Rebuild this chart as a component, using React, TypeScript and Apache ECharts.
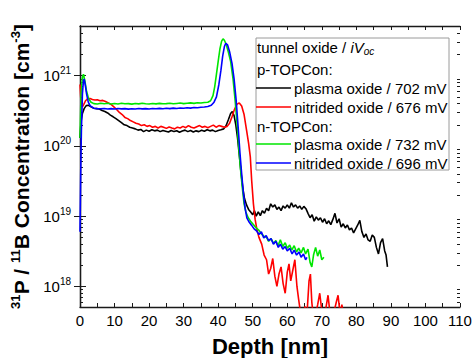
import React, { useEffect, useRef } from 'react';
import * as echarts from 'echarts';

const FONT = '"Liberation Sans", Arial, sans-serif';

// axis ranges and tick labels
const DEPTH_MIN = 0;
const DEPTH_MAX = 110;
const DEPTH_TICK_STEP = 5;
const CONC_MIN = 5.1e17;
const CONC_MAX = 5.1e21;
const majorExponents = [18, 19, 20, 21];
const minorMultipliers = [2, 3, 4, 5, 6, 7, 8, 9];
const minorDecades = [17, 18, 19, 20, 21];

// legend texts
const legendTitle = 'tunnel oxide / ';
const groupP = 'p-TOPCon:';
const groupN = 'n-TOPCon:';
const seriesNames = [
  'plasma oxide / 702 mV',
  'nitrided oxide / 676 mV',
  'plasma oxide / 732 mV',
  'nitrided oxide / 696 mV',
];
const seriesColors = ['#000000', '#ff0000', '#00e600', '#0000ff'];

// p-TOPCon, plasma oxide (black) [depth nm, concentration cm^-3]
const pPlasma: [number, number][] = [
  [0, 1.3e20], [0.3, 2.2e20], [0.7, 2.9e20], [1.2, 3.4e20], [1.8, 3.75e20], [2.5, 3.8e20],
  [3.2, 3.6e20], [4, 3.45e20], [4.8, 3.4e20], [5.6, 3.35e20], [6.4, 3.2e20], [7.2, 3.1e20],
  [8, 2.95e20], [8.8, 2.75e20], [9.6, 2.6e20], [10.4, 2.45e20], [11.2, 2.3e20], [12, 2.15e20],
  [12.8, 2.0e20], [13.6, 1.95e20], [14.4, 1.85e20], [15.2, 1.8e20], [16, 1.75e20], [16.8, 1.68e20],
  [17.6, 1.72e20], [18.4, 1.6e20], [19.2, 1.68e20], [20, 1.62e20], [20.8, 1.7e20], [21.6, 1.64e20],
  [22.4, 1.68e20], [23.2, 1.6e20], [24, 1.66e20], [24.8, 1.62e20], [25.6, 1.58e20], [26.4, 1.66e20],
  [27.2, 1.6e20], [28, 1.65e20], [28.8, 1.57e20], [29.6, 1.63e20], [30.4, 1.68e20], [31.2, 1.6e20],
  [32, 1.66e20], [32.8, 1.58e20], [33.6, 1.64e20], [34.4, 1.6e20], [35.2, 1.67e20], [36, 1.62e20],
  [36.8, 1.7e20], [37.6, 1.64e20], [38.4, 1.68e20], [39.2, 1.6e20], [40, 1.66e20], [40.8, 1.7e20],
  [41.6, 1.75e20], [42.3, 1.95e20], [43, 2.4e20], [43.6, 2.9e20], [44.1, 3.1e20], [44.6, 2.7e20],
  [45.1, 2.0e20], [45.6, 1.3e20], [46.1, 7.5e19], [46.6, 4.2e19], [47.1, 2.6e19], [47.6, 1.8e19],
  [48.2, 1.45e19], [48.8, 1.25e19], [49.4, 1.15e19], [50, 1.05e19], [50.5, 1.2e19], [51, 1.0e19],
  [51.6, 1.15e19], [52.2, 1.02e19], [52.8, 1.2e19], [53.4, 1.1e19], [54, 1.3e19], [54.6, 1.2e19],
  [55.2, 1.5e19], [55.8, 1.35e19], [56.4, 1.45e19], [57, 1.25e19], [57.6, 1.35e19], [58.2, 1.2e19],
  [58.8, 1.4e19], [59.4, 1.3e19], [60, 1.45e19], [60.6, 1.3e19], [61.2, 1.55e19], [61.8, 1.35e19],
  [62.4, 1.45e19], [63, 1.3e19], [63.6, 1.4e19], [64.2, 1.25e19], [64.8, 1.38e19], [65.4, 1.28e19],
  [66, 1.1e19], [66.6, 9.5e18], [67.2, 1.05e19], [67.8, 8.5e18], [68.4, 9.8e18], [69, 8.8e18],
  [69.6, 9.5e18], [70.2, 8.2e18], [70.8, 9.2e18], [71.4, 7.8e18], [72, 8.6e18], [72.6, 7.6e18],
  [73.2, 9e18], [73.8, 1.1e19], [74.4, 8e18], [75, 9.2e18], [75.6, 7e18], [76.2, 7.8e18],
  [76.8, 6.8e18], [77.4, 7.5e18], [78, 6.4e18], [78.6, 6.8e18], [79.2, 5.8e18], [79.8, 6.6e18],
  [80.4, 7.5e18], [81, 8.7e18], [81.6, 6e18], [82.2, 5e18], [82.8, 5.6e18], [83.4, 4.6e18],
  [84, 4.4e18], [84.6, 5.4e18], [85.2, 5e18], [85.8, 3.6e18], [86.4, 2.9e18], [87, 4.2e18],
  [87.6, 4.8e18], [88.2, 3.2e18], [88.6, 2.8e18], [89, 1.9e18],
];

// p-TOPCon, nitrided oxide (red)
const pNitrided: [number, number][] = [
  [0, 7.5e20], [0.2, 5e20], [0.4, 3.8e20], [0.7, 3.6e20], [1.1, 3.9e20], [1.6, 4.4e20],
  [2.2, 4.7e20], [2.9, 4.75e20], [3.6, 4.6e20], [4.3, 4.5e20], [5, 4.55e20], [5.8, 4.4e20],
  [6.6, 4.45e20], [7.4, 4.3e20], [8.2, 4.1e20], [9, 3.9e20], [9.8, 3.6e20], [10.6, 3.3e20],
  [11.4, 3.0e20], [12.2, 2.8e20], [13, 2.55e20], [13.8, 2.45e20], [14.6, 2.3e20], [15.4, 2.2e20],
  [16.2, 2.1e20], [17, 2.05e20], [17.8, 1.95e20], [18.6, 2.0e20], [19.4, 1.9e20], [20.2, 1.95e20],
  [21, 1.85e20], [21.8, 1.9e20], [22.6, 1.8e20], [23.4, 1.9e20], [24.2, 1.85e20], [25, 1.78e20],
  [25.8, 1.86e20], [26.6, 1.8e20], [27.4, 1.75e20], [28.2, 1.85e20], [29, 1.8e20], [29.8, 1.9e20],
  [30.6, 1.82e20], [31.4, 1.95e20], [32.2, 1.85e20], [33, 1.8e20], [33.8, 1.88e20], [34.6, 1.95e20],
  [35.4, 1.85e20], [36.2, 1.9e20], [37, 1.82e20], [37.8, 1.9e20], [38.6, 1.98e20], [39.4, 1.85e20],
  [40.2, 1.95e20], [41, 1.9e20], [41.8, 1.85e20], [42.6, 1.9e20], [43.3, 2.1e20], [44, 2.6e20],
  [44.7, 3.3e20], [45.4, 3.9e20], [46.1, 4.1e20], [46.8, 3.7e20], [47.5, 2.8e20], [48.2, 1.7e20],
  [48.8, 1.1e20], [49.3, 7e19], [49.7, 3.2e19], [50.2, 1.5e19], [50.7, 9e18], [51.2, 6.5e18],
  [51.8, 5e18], [52.6, 4e18], [53.3, 2.8e18], [54, 2.4e18], [54.6, 1.5e18], [55.2, 1.8e18],
  [55.8, 2.5e18], [56.4, 1.4e18], [57, 1.0e18], [57.6, 1.5e18], [58.2, 1.9e18], [58.8, 1.1e18],
  [59.4, 8e17], [60, 1.6e18], [60.5, 2.1e18], [61, 1.2e18], [61.6, 1.7e18], [62.2, 2.4e18],
  [62.8, 1.0e18], [63.3, 6.5e17], [63.9, 4e17], [64.5, 3.5e17], [65.1, 5.2e17], [65.7, 4e17],
  [66.3, 1.2e18], [66.7, 1.5e18], [67.1, 6e17], [67.6, 3.5e17], [68.2, 4e17], [68.8, 5.5e17],
  [69.4, 8e17], [70, 4.5e17], [70.6, 3.5e17], [71.2, 5e17], [71.8, 7.5e17], [72.4, 4e17],
  [73, 3.5e17], [73.6, 4.5e17], [74.2, 6e17], [74.7, 7.5e17], [75.3, 4e17], [75.8, 5.5e17],
  [76.3, 4e17],
];

// n-TOPCon, plasma oxide (green)
const nPlasma: [number, number][] = [
  [0, 1.3e20], [0.3, 5.5e20], [0.7, 9.5e20], [1.0, 1.05e21], [1.4, 8.5e20], [1.9, 6e20],
  [2.5, 4.7e20], [3.2, 4.2e20], [4, 4.0e20], [5, 3.95e20], [6, 4.05e20], [7, 3.98e20],
  [8, 4.05e20], [9, 3.95e20], [10, 4.02e20], [11, 3.96e20], [12, 4.05e20], [13, 3.98e20],
  [14, 4.0e20], [15, 3.94e20], [16, 4.03e20], [17, 3.97e20], [18, 4.05e20], [19, 3.99e20],
  [20, 3.95e20], [21, 4.02e20], [22, 3.97e20], [23, 4.04e20], [24, 3.98e20], [25, 4.0e20],
  [26, 4.06e20], [27, 3.98e20], [28, 4.03e20], [29, 4.08e20], [30, 4.0e20], [31, 4.05e20],
  [32, 4.1e20], [33, 4.04e20], [34, 4.12e20], [35, 4.08e20], [36, 4.15e20], [37, 4.2e20],
  [37.8, 4.4e20], [38.5, 5.2e20], [39, 7e20], [39.5, 1.05e21], [40, 1.6e21], [40.5, 2.4e21],
  [41, 3.1e21], [41.4, 3.35e21], [41.8, 3.2e21], [42.3, 2.8e21], [42.9, 2.2e21], [43.6, 1.6e21],
  [44.3, 9e20], [44.9, 4.5e20], [45.5, 2e20], [46, 9e19], [46.5, 4.5e19], [47, 2.5e19],
  [47.5, 1.5e19], [48, 1.15e19], [48.7, 9.5e18], [49.5, 8.3e18], [50.3, 7.5e18], [51, 6.8e18],
  [51.8, 6.3e18], [52.5, 5.6e18], [53.2, 5.2e18], [54, 5.0e18], [54.6, 4.4e18], [55.3, 4.8e18],
  [56, 4.1e18], [56.7, 4.5e18], [57.3, 3.8e18], [58, 4.6e18], [58.7, 3.7e18], [59.4, 4.2e18],
  [60, 3.5e18], [60.7, 3.9e18], [61.3, 3.3e18], [62, 3.8e18], [62.7, 3.1e18], [63.3, 3.5e18],
  [64, 3.0e18], [64.7, 3.6e18], [65.3, 2.9e18], [66, 3.4e18], [66.6, 2.2e18], [67.1, 1.9e18],
  [67.6, 2.8e18], [68.2, 3.6e18], [68.8, 2.7e18], [69.4, 3.3e18], [70, 2.4e18], [70.6, 2.6e18],
];

// n-TOPCon, nitrided oxide (blue)
const nNitrided: [number, number][] = [
  [0, 6e18], [0.2, 4e19], [0.4, 1.6e20], [0.7, 5.5e20], [1.0, 8.5e20], [1.2, 9e20],
  [1.5, 7.5e20], [1.9, 5.5e20], [2.4, 4.2e20], [3, 3.7e20], [4, 3.45e20], [5, 3.4e20],
  [6, 3.38e20], [7, 3.42e20], [8, 3.36e20], [9, 3.4e20], [10, 3.35e20], [11, 3.41e20],
  [12, 3.37e20], [13, 3.4e20], [14, 3.34e20], [15, 3.39e20], [16, 3.36e20], [17, 3.42e20],
  [18, 3.37e20], [19, 3.4e20], [20, 3.35e20], [21, 3.41e20], [22, 3.38e20], [23, 3.43e20],
  [24, 3.39e20], [25, 3.44e20], [26, 3.4e20], [27, 3.46e20], [28, 3.42e20], [29, 3.47e20],
  [30, 3.44e20], [31, 3.5e20], [32, 3.46e20], [33, 3.52e20], [34, 3.5e20], [35, 3.55e20],
  [36, 3.58e20], [37, 3.65e20], [38, 3.8e20], [38.8, 4.2e20], [39.5, 5e20], [40.2, 7.5e20],
  [40.8, 1.2e21], [41.3, 1.9e21], [41.8, 2.6e21], [42.2, 2.9e21], [42.7, 2.75e21], [43.3, 2.2e21],
  [44, 1.5e21], [44.6, 9e20], [45.2, 4.5e20], [45.8, 1.8e20], [46.3, 8e19], [46.8, 4e19],
  [47.3, 2.1e19], [47.8, 1.3e19], [48.3, 9.5e18], [49, 8.2e18], [49.7, 7.4e18], [50.4, 6.6e18],
  [51.1, 6.2e18], [51.8, 5.5e18], [52.5, 6e18], [53.2, 4.9e18], [53.9, 5.3e18], [54.6, 4.5e18],
  [55.3, 4.8e18], [56, 4.0e18], [56.7, 4.4e18], [57.4, 3.6e18], [58, 4.0e18], [58.7, 3.4e18],
  [59.4, 3.7e18], [60, 3.2e18], [60.7, 3.5e18], [61.4, 2.9e18], [62, 3.3e18], [62.7, 2.8e18],
  [63.4, 3.1e18], [64, 2.6e18], [64.7, 2.9e18], [65.3, 2.4e18], [65.7, 2.6e18],
];

const seriesData = [pPlasma, pNitrided, nPlasma, nNitrided];

const majorValues = majorExponents.map((e) => Math.pow(10, e));
const minorValues: number[] = [];
minorDecades.forEach((d) => {
  minorMultipliers.forEach((m) => {
    const v = m * Math.pow(10, d);
    if (v > CONC_MIN && v < CONC_MAX) minorValues.push(v);
  });
});

const AXIS_COLOR = '#1a1a1a';

function makeOption(): echarts.EChartsOption {
  const grid = { left: 80, right: 15, top: 26, bottom: 51 };
  const yBase = (position: 'left' | 'right', custom: number[], len: number, labels: boolean, line: boolean, name?: boolean): any => ({
    type: 'log',
    logBase: 10,
    position,
    min: CONC_MIN,
    max: CONC_MAX,
    axisLine: { show: line, lineStyle: { color: AXIS_COLOR, width: 1.3 } },
    axisTick: { show: true, inside: true, length: len, customValues: custom, lineStyle: { color: AXIS_COLOR, width: 1 } },
    axisLabel: labels
      ? {
          show: true,
          customValues: majorValues,
          margin: 9,
          formatter: (v: number) => `{b|10}{s|${Math.round(Math.log10(v))}}`,
          rich: {
            b: { fontSize: 15, fontFamily: FONT, color: '#000', lineHeight: 20, verticalAlign: 'middle' },
            s: { fontSize: 10, fontFamily: FONT, color: '#000', lineHeight: 10, verticalAlign: 'top' },
          },
        }
      : { show: false },
    splitLine: { show: false },
    minorTick: { show: false },
    ...(name
      ? {
          name: '{s|31}{b|P / }{s|11}{b|B Concentration [cm}{s|-3}{b|]}',
          nameLocation: 'middle',
          nameRotate: 90,
          nameGap: 42,
          nameTextStyle: {
            rich: {
              b: { fontSize: 21, fontWeight: 'bold', fontFamily: FONT, color: '#000', lineHeight: 26, verticalAlign: 'middle' },
              s: { fontSize: 13, fontWeight: 'bold', fontFamily: FONT, color: '#000', lineHeight: 13, verticalAlign: 'top' },
            },
          },
        }
      : {}),
  });

  const xBase = (position: 'top' | 'bottom', labels: boolean): any => ({
    type: 'value',
    position,
    min: DEPTH_MIN,
    max: DEPTH_MAX,
    interval: DEPTH_TICK_STEP,
    axisLine: { show: true, lineStyle: { color: AXIS_COLOR, width: 1.3 } },
    axisTick: { show: true, inside: true, length: 4, lineStyle: { color: AXIS_COLOR, width: 1 } },
    axisLabel: labels
      ? {
          show: true,
          margin: 6,
          fontSize: 15,
          fontFamily: FONT,
          color: '#000',
          showMinLabel: true,
          showMaxLabel: true,
          formatter: (v: number) => (v % 10 === 0 ? String(v) : ''),
        }
      : { show: false },
    splitLine: { show: false },
    ...(labels
      ? {
          name: 'Depth [nm]',
          nameLocation: 'middle',
          nameGap: 28,
          nameTextStyle: { fontSize: 22, fontWeight: 'bold', fontFamily: FONT, color: '#000' },
        }
      : {}),
  });

  const rowY = [47, 69, 88, 107, 126, 144, 163];
  const legendLeft = 256;
  const lineX2 = 291;
  const textX = 294;
  const txt = (text: string, x: number, y: number): any => ({
    type: 'text',
    x,
    y,
    style: { text, x: 0, y: 0, fontSize: 15, fontFamily: FONT, fill: '#000', verticalAlign: 'middle', align: 'left' },
    z: 101,
  });
  const sampleRows = [2, 3, 5, 6];

  const graphics: any[] = [
    {
      type: 'rect',
      shape: { x: legendLeft, y: 38, width: 193, height: 132 },
      style: { fill: '#ffffff', stroke: '#9a9a9a', lineWidth: 1 },
      z: 100,
    },
    {
      type: 'text',
      x: legendLeft + 1,
      y: rowY[0],
      z: 101,
      style: {
        text: `{n|${legendTitle}}{i|iV}{o|oc}`,
        verticalAlign: 'middle',
        align: 'left',
        rich: {
          n: { fontSize: 15, fontFamily: FONT, fill: '#000', lineHeight: 18, verticalAlign: 'middle' },
          i: { fontSize: 15, fontFamily: FONT, fill: '#000', fontStyle: 'italic', lineHeight: 18, verticalAlign: 'middle' },
          o: { fontSize: 10, fontFamily: FONT, fill: '#000', fontStyle: 'italic', lineHeight: 10, verticalAlign: 'bottom' },
        },
      },
    },
    txt(groupP, legendLeft + 1, rowY[1]),
    txt(groupN, legendLeft + 1, rowY[4]),
  ];
  sampleRows.forEach((r, i) => {
    graphics.push({
      type: 'line',
      shape: { x1: legendLeft, y1: rowY[r], x2: lineX2, y2: rowY[r] },
      style: { stroke: seriesColors[i], lineWidth: 1.6 },
      z: 101,
    });
    graphics.push(txt(seriesNames[i], textX, rowY[r]));
  });

  return {
    animation: false,
    backgroundColor: '#ffffff',
    grid: { ...grid, outerBoundsMode: 'none', containLabel: false } as any,
    xAxis: [xBase('bottom', true), xBase('top', false)],
    yAxis: [
      yBase('left', majorValues, 6, true, true, true),
      yBase('right', majorValues, 6, false, true),
      yBase('left', minorValues, 3, false, false),
      yBase('right', minorValues, 3, false, false),
    ],
    series: seriesData.map((d, i) => ({
      type: 'line',
      name: seriesNames[i],
      data: d,
      xAxisIndex: 0,
      yAxisIndex: 0,
      showSymbol: false,
      symbol: 'none',
      clip: true,
      lineStyle: { color: seriesColors[i], width: 1.6 },
      itemStyle: { color: seriesColors[i] },
    })),
    graphic: graphics,
  } as any;
}

export default function App() {
  const ref = useRef<HTMLDivElement>(null);
  useEffect(() => {
    if (!ref.current) return;
    const chart = echarts.init(ref.current, undefined, { renderer: 'svg' });
    chart.setOption(makeOption());
    return () => chart.dispose();
  }, []);
  return (
    <div
      ref={ref}
      style={{ position: 'fixed', left: 0, top: 0, width: 475, height: 358, background: '#fff' }}
    />
  );
}
